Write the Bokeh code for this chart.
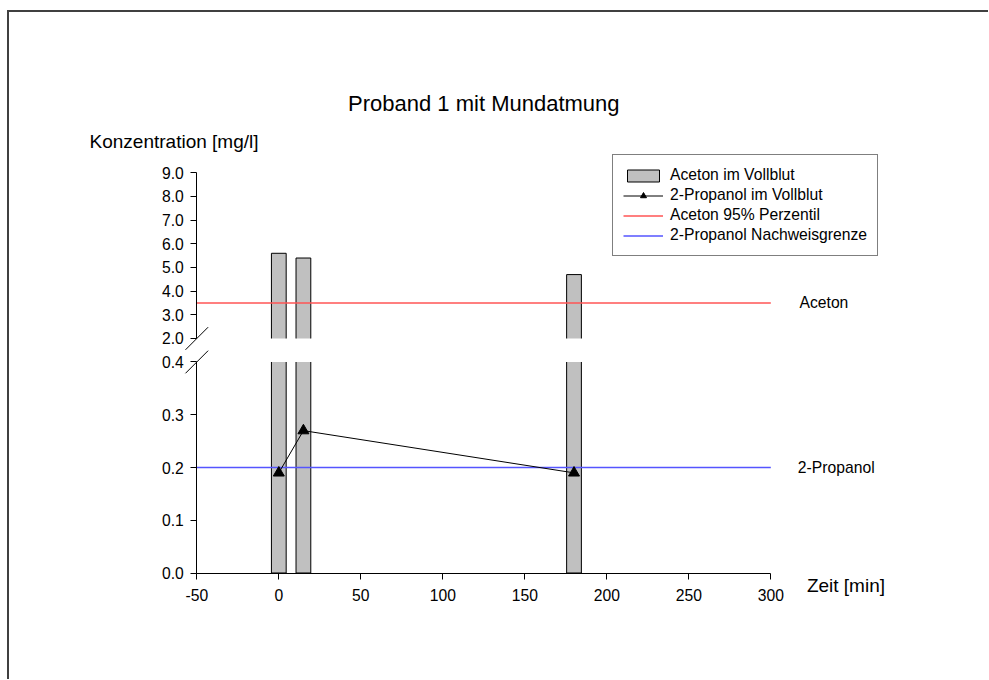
import numpy as np
from bokeh.plotting import figure
from bokeh.models import (Range1d, LinearAxis, FixedTicker, Label, Legend,
                          LegendItem, PrintfTickFormatter)
from bokeh.embed import file_html
from bokeh.resources import INLINE

# ---------------- data ----------------
zeit = [0, 15, 180]                      # min
aceton_vollblut = [5.6, 5.4, 4.7]        # mg/l
propanol_vollblut = [0.19, 0.27, 0.19]   # mg/l
aceton_p95 = 3.5
propanol_nwg = 0.2
x_ticks = [-50, 0, 50, 100, 150, 200, 250, 300]
y_ticks_low = [0.0, 0.1, 0.2, 0.3, 0.4]
y_ticks_up = [2.0, 3.0, 4.0, 5.0, 6.0, 7.0, 8.0, 9.0]

title_text = "Proband 1 mit Mundatmung"
y_label = "Konzentration [mg/l]"
x_label = "Zeit [min]"
legend_labels = ["Aceton im Vollblut", "2-Propanol im Vollblut",
                 "Aceton 95% Perzentil", "2-Propanol Nachweisgrenze"]

# ---------------- style / geometry ----------------
FONT = "Liberation Sans"
X_MIN, X_MAX = -50, 300
LOW_MAX = 0.4        # top of the lower axis segment
UP_MIN, UP_MAX = 2.0, 9.0
BAR_W = 9
BAR_FILL = "#C0C0C0"
RED = "#FF5555"
BLUE = "#5555FF"
TICK_FS = "15.7px"

p = figure(width=981, height=669,
           x_range=Range1d(-116.65, 380.3),
           y_range=Range1d(-0.0896, 0.9710),
           output_backend="svg", toolbar_location=None,
           x_axis_location=None, y_axis_location=None,
           min_border_left=80, min_border_right=86,
           min_border_top=50, min_border_bottom=59)
p.extra_y_ranges = {"upper": Range1d(-9.914, 13.745)}
p.xgrid.visible = False
p.ygrid.visible = False
p.outline_line_color = None
p.border_fill_color = None
p.background_fill_color = None
p.margin = (10, 0, 0, 7)
p.styles = {"box-shadow": "inset 2px 2px 0px 0px #404040"}


def style_axis(ax):
    ax.major_tick_out = 6
    ax.major_tick_in = 0
    ax.minor_tick_out = 0
    ax.minor_tick_in = 0
    ax.axis_line_color = "black"
    ax.major_tick_line_color = "black"
    ax.major_label_text_font = FONT
    ax.major_label_text_font_size = TICK_FS
    ax.major_label_text_color = "black"


xaxis = LinearAxis(ticker=FixedTicker(ticks=x_ticks), bounds=(X_MIN, X_MAX),
                   fixed_location=0, formatter=PrintfTickFormatter(format="%d"))
style_axis(xaxis)
xaxis.major_label_standoff = 10
p.add_layout(xaxis, "below")

ylow = LinearAxis(ticker=FixedTicker(ticks=y_ticks_low), bounds=(0, LOW_MAX),
                  fixed_location=X_MIN, formatter=PrintfTickFormatter(format="%.1f"))
style_axis(ylow)
ylow.major_label_standoff = 7
p.add_layout(ylow, "left")

yup = LinearAxis(y_range_name="upper", ticker=FixedTicker(ticks=y_ticks_up),
                 bounds=(UP_MIN, UP_MAX), fixed_location=X_MIN,
                 formatter=PrintfTickFormatter(format="%.1f"))
style_axis(yup)
yup.major_label_standoff = 7
p.add_layout(yup, "left")

# ---------------- bars (broken axis) ----------------
z = np.array(zeit, dtype=float)
a = np.array(aceton_vollblut, dtype=float)
a_low = np.minimum(a, LOW_MAX)

p.vbar(x=z, width=BAR_W, bottom=UP_MIN, top=a, y_range_name="upper",
       fill_color=BAR_FILL, line_color=None)
p.vbar(x=z, width=BAR_W, bottom=0, top=a_low,
       fill_color=BAR_FILL, line_color=None)

# outlines (open at the axis break)
up_xs, up_ys, lo_xs, lo_ys = [], [], [], []
for xi, vi, vl in zip(z, a, a_low):
    l, r = xi - BAR_W / 2, xi + BAR_W / 2
    if vi > UP_MIN:
        up_xs.append([l, l, r, r])
        up_ys.append([UP_MIN, vi, vi, UP_MIN])
        lo_xs += [[l, l], [r, r]]
        lo_ys += [[0, vl], [0, vl]]
    else:
        lo_xs.append([l, l, r, r])
        lo_ys.append([0, vl, vl, 0])
p.multi_line(xs=up_xs, ys=up_ys, y_range_name="upper", line_color="black", line_width=1)
p.multi_line(xs=lo_xs, ys=lo_ys, line_color="black", line_width=1)

# legend proxy for the bars: zero-height bars lying on the x axis line
r_legbar = p.vbar(x=zeit, width=BAR_W, bottom=0, top=0,
                  fill_color=BAR_FILL, line_color="black")

# reference lines
r_red = p.segment(x0=[X_MIN], x1=[X_MAX], y0=[aceton_p95], y1=[aceton_p95],
                  y_range_name="upper", line_color=RED, line_width=1.5)
r_blue = p.segment(x0=[X_MIN], x1=[X_MAX], y0=[propanol_nwg], y1=[propanol_nwg],
                   line_color=BLUE, line_width=1.5)

# 2-Propanol series
r_line = p.line(zeit, propanol_vollblut, line_color="black", line_width=1)
r_tri = p.scatter(zeit, propanol_vollblut, marker="triangle", size=11,
                  fill_color="black", line_color="black")

# axis break marks
p.scatter([X_MIN], [UP_MIN], y_range_name="upper", marker="dash", size=32,
          angle=np.pi / 4, line_color="black", line_width=1)
p.scatter([X_MIN], [LOW_MAX], marker="dash", size=32,
          angle=np.pi / 4, line_color="black", line_width=1)

# legend
legend = Legend(items=[
    LegendItem(label=legend_labels[0], renderers=[r_legbar]),
    LegendItem(label=legend_labels[1], renderers=[r_line, r_tri]),
    LegendItem(label=legend_labels[2], renderers=[r_red]),
    LegendItem(label=legend_labels[3], renderers=[r_blue]),
], location=(525, 364))
legend.border_line_color = "black"
legend.border_line_width = 1
legend.background_fill_color = "white"
legend.background_fill_alpha = 1
legend.label_text_font = FONT
legend.label_text_font_size = TICK_FS
legend.label_text_color = "black"
legend.glyph_width = 40
legend.glyph_height = 15
legend.label_height = 20
legend.label_standoff = 7
legend.padding = 10
legend.spacing = 0
legend.margin = 0
p.add_layout(legend, "center")

# texts
p.add_layout(Label(x=(X_MIN + X_MAX) / 2, y=11.93, y_range_name="upper",
                   text=title_text, text_font=FONT, text_font_size="22px",
                   text_align="center", text_baseline="middle", text_color="black"))
p.add_layout(Label(x=-115.4, y=10.32, y_range_name="upper",
                   text=y_label, text_font=FONT, text_font_size="19px",
                   text_align="left", text_baseline="middle", text_color="black"))
p.add_layout(Label(x=322, y=-0.0242,
                   text=x_label, text_font=FONT, text_font_size="19px",
                   text_align="left", text_baseline="middle", text_color="black"))
p.add_layout(Label(x=317.5, y=aceton_p95, y_range_name="upper",
                   text="Aceton", text_font=FONT, text_font_size=TICK_FS,
                   text_align="left", text_baseline="middle", text_color="black"))
p.add_layout(Label(x=316.5, y=propanol_nwg,
                   text="2-Propanol", text_font=FONT, text_font_size=TICK_FS,
                   text_align="left", text_baseline="middle", text_color="black"))

open("out.html", "w").write(file_html(p, INLINE))
